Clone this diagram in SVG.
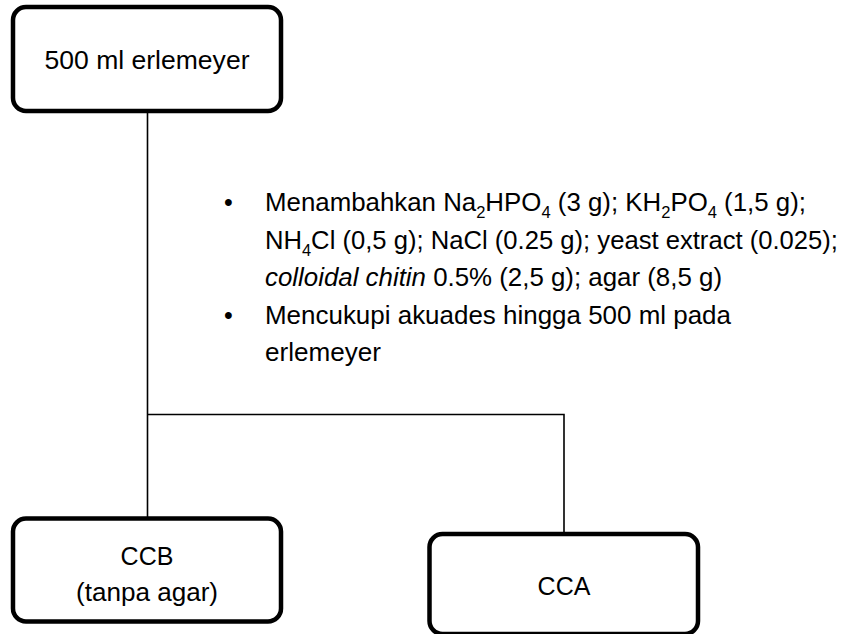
<svg xmlns="http://www.w3.org/2000/svg" width="852" height="634" viewBox="0 0 852 634">
<style>
.box{fill:#fff;stroke:#000;stroke-width:4.5}
.lbl{font-family:"Liberation Sans",Arial,sans-serif;fill:#000;text-anchor:middle;font-size:25px}
.txt{font-family:"Liberation Sans",Arial,sans-serif;font-size:25px;fill:#000}
.sub{font-size:16px}
.con{fill:none;stroke:#000;stroke-width:1.6}
</style>
<rect width="852" height="634" fill="#fff"/>
<g id="connectors">
<path class="con" d="M147.5 111 V518"/>
<path class="con" d="M147.5 414.5 H564 V534"/>
</g>
<g id="node-erlemeyer">
<rect class="box" x="13" y="7" width="268" height="104" rx="13"/>
<text class="lbl" x="147" y="69" font-size="26" textLength="205" lengthAdjust="spacingAndGlyphs">500 ml erlemeyer</text>
</g>
<g id="note">
<text class="txt" x="224" y="211">•</text>
<text class="txt" x="265" y="211" textLength="541" lengthAdjust="spacingAndGlyphs">Menambahkan Na<tspan class="sub" dy="7">2</tspan><tspan dy="-7">HPO</tspan><tspan class="sub" dy="7">4</tspan><tspan dy="-7"> (3 g); KH</tspan><tspan class="sub" dy="7">2</tspan><tspan dy="-7">PO</tspan><tspan class="sub" dy="7">4</tspan><tspan dy="-7"> (1,5 g);</tspan></text>
<text class="txt" x="265" y="248.5" textLength="573" lengthAdjust="spacingAndGlyphs">NH<tspan class="sub" dy="7">4</tspan><tspan dy="-7">Cl (0,5 g); NaCl (0.25 g); yeast extract (0.025);</tspan></text>
<text class="txt" x="265" y="286" textLength="457" lengthAdjust="spacingAndGlyphs"><tspan font-style="italic">colloidal chitin</tspan> 0.5% (2,5 g); agar (8,5 g)</text>
<text class="txt" x="224" y="323.5">•</text>
<text class="txt" x="265" y="323.5" textLength="466" lengthAdjust="spacingAndGlyphs">Mencukupi akuades hingga 500 ml pada</text>
<text class="txt" x="265" y="361" textLength="116" lengthAdjust="spacingAndGlyphs">erlemeyer</text>
</g>
<g id="node-ccb">
<rect class="box" x="13" y="518.5" width="268" height="103" rx="13"/>
<text class="lbl" x="147" y="565">CCB</text>
<text class="lbl" x="147" y="601" textLength="142" lengthAdjust="spacingAndGlyphs">(tanpa agar)</text>
</g>
<g id="node-cca">
<rect class="box" x="429.5" y="534" width="268.5" height="100" rx="13"/>
<text class="lbl" x="564" y="595">CCA</text>
</g>
</svg>
